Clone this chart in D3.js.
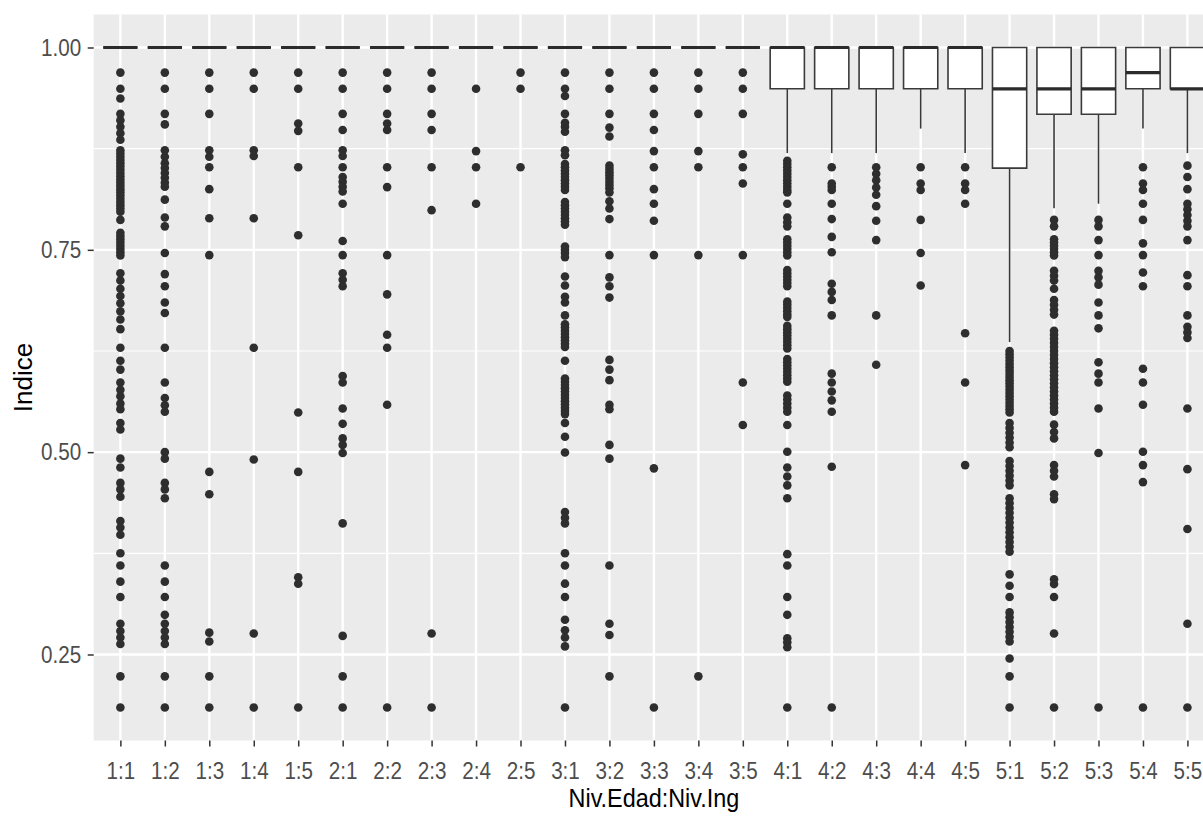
<!DOCTYPE html>
<html><head><meta charset="utf-8">
<script src="https://cdn.jsdelivr.net/npm/d3@7"></script>
<style>html,body{margin:0;padding:0;background:#fff;overflow:hidden}</style>
</head><body><svg id="chart" width="1203" height="816"></svg>
<script>
// ---- data ----
const categories = ["1:1","1:2","1:3","1:4","1:5","2:1","2:2","2:3","2:4","2:5","3:1","3:2","3:3","3:4","3:5","4:1","4:2","4:3","4:4","4:5","5:1","5:2","5:3","5:4","5:5"];
const q1         = [1,1,1,1,1,1,1,1,1,1,1,1,1,1,1,0.949,0.949,0.949,0.949,0.949,0.851,0.9175,0.9175,0.949,0.949];
const medians    = [1,1,1,1,1,1,1,1,1,1,1,1,1,1,1,1,1,1,1,1,0.949,0.949,0.949,0.969,0.949];
const q3         = [1,1,1,1,1,1,1,1,1,1,1,1,1,1,1,1,1,1,1,1,1,1,1,1,1];
const whiskerLow = [1,1,1,1,1,1,1,1,1,1,1,1,1,1,1,0.8695,0.8695,0.8695,0.8998,0.8695,0.636,0.8015,0.807,0.8998,0.8695];
const whiskerHigh= [1,1,1,1,1,1,1,1,1,1,1,1,1,1,1,1,1,1,1,1,1,1,1,1,1];
const outliers = [
  /*1:1*/[0.969,0.949,0.937,0.918,0.910,0.902,0.894,0.886,0.873,0.869,0.865,0.861,0.857,0.853,0.849,0.845,0.841,0.837,0.833,0.829,0.825,0.821,0.817,0.813,0.809,0.805,0.801,0.797,0.787,0.771,0.767,0.763,0.759,0.755,0.751,0.747,0.743,0.721,0.712,0.702,0.693,0.684,0.674,0.664,0.652,0.629,0.613,0.602,0.586,0.577,0.569,0.560,0.553,0.536,0.528,0.492,0.481,0.462,0.454,0.445,0.415,0.407,0.398,0.375,0.360,0.340,0.321,0.288,0.279,0.271,0.263,0.223,0.1845],
  /*1:2*/[0.969,0.949,0.918,0.905,0.873,0.865,0.857,0.851,0.845,0.839,0.833,0.828,0.812,0.790,0.779,0.746,0.720,0.705,0.685,0.672,0.629,0.586,0.567,0.558,0.550,0.500,0.492,0.462,0.454,0.443,0.360,0.340,0.321,0.299,0.288,0.279,0.271,0.263,0.223,0.1845],
  /*1:3*/[0.969,0.949,0.918,0.873,0.865,0.852,0.825,0.789,0.7435,0.4756,0.448,0.277,0.266,0.223,0.1845],
  /*1:4*/[0.969,0.949,0.873,0.866,0.789,0.629,0.491,0.276,0.1845],
  /*1:5*/[0.969,0.949,0.906,0.897,0.852,0.768,0.549,0.4756,0.3455,0.3375,0.1845],
  /*2:1*/[0.969,0.949,0.918,0.898,0.873,0.866,0.852,0.840,0.834,0.828,0.822,0.807,0.761,0.7435,0.721,0.713,0.705,0.594,0.586,0.554,0.535,0.517,0.509,0.499,0.412,0.273,0.223,0.1845],
  /*2:2*/[0.969,0.949,0.918,0.906,0.898,0.852,0.8275,0.7435,0.695,0.645,0.629,0.5585,0.1845],
  /*2:3*/[0.969,0.949,0.918,0.898,0.852,0.799,0.276,0.1845],
  /*2:4*/[0.949,0.872,0.852,0.807],
  /*2:5*/[0.969,0.949,0.852],
  /*3:1*/[0.969,0.949,0.940,0.918,0.907,0.902,0.896,0.873,0.867,0.856,0.852,0.848,0.844,0.840,0.836,0.832,0.828,0.824,0.809,0.805,0.801,0.797,0.793,0.789,0.785,0.781,0.754,0.750,0.746,0.741,0.717,0.706,0.692,0.685,0.669,0.658,0.654,0.650,0.646,0.642,0.638,0.634,0.630,0.613,0.591,0.587,0.583,0.579,0.575,0.571,0.567,0.563,0.559,0.555,0.551,0.547,0.536,0.519,0.4995,0.426,0.419,0.412,0.375,0.360,0.3375,0.321,0.293,0.280,0.271,0.260,0.1845],
  /*3:2*/[0.969,0.949,0.918,0.901,0.890,0.854,0.850,0.846,0.842,0.838,0.834,0.830,0.826,0.821,0.810,0.801,0.788,0.7435,0.716,0.705,0.691,0.614,0.602,0.589,0.5585,0.553,0.509,0.492,0.360,0.288,0.274,0.223],
  /*3:3*/[0.969,0.949,0.918,0.898,0.872,0.852,0.825,0.807,0.786,0.7435,0.480,0.1845],
  /*3:4*/[0.969,0.949,0.918,0.872,0.852,0.7435,0.223],
  /*3:5*/[0.969,0.949,0.918,0.868,0.852,0.832,0.7435,0.586,0.5336],
  /*4:1*/[0.860,0.856,0.852,0.848,0.844,0.840,0.836,0.832,0.828,0.824,0.821,0.807,0.790,0.784,0.779,0.763,0.759,0.755,0.751,0.747,0.743,0.725,0.721,0.717,0.713,0.709,0.705,0.686,0.682,0.678,0.674,0.670,0.667,0.656,0.652,0.648,0.644,0.640,0.636,0.632,0.628,0.615,0.611,0.607,0.603,0.599,0.595,0.591,0.587,0.570,0.565,0.560,0.555,0.550,0.5336,0.5005,0.481,0.470,0.459,0.443,0.374,0.360,0.321,0.299,0.270,0.265,0.259,0.1845],
  /*4:2*/[0.852,0.832,0.828,0.824,0.807,0.788,0.766,0.747,0.708,0.698,0.688,0.669,0.597,0.586,0.575,0.564,0.550,0.482,0.1845],
  /*4:3*/[0.852,0.844,0.836,0.827,0.818,0.804,0.786,0.762,0.669,0.608],
  /*4:4*/[0.852,0.832,0.824,0.787,0.746,0.706],
  /*4:5*/[0.852,0.832,0.824,0.807,0.647,0.586,0.484],
  /*5:1*/[0.625,0.621,0.617,0.613,0.609,0.605,0.601,0.597,0.593,0.589,0.585,0.581,0.577,0.573,0.569,0.565,0.561,0.557,0.553,0.549,0.536,0.530,0.524,0.518,0.512,0.506,0.489,0.483,0.477,0.471,0.465,0.459,0.443,0.437,0.431,0.425,0.419,0.413,0.407,0.401,0.395,0.389,0.383,0.377,0.349,0.335,0.321,0.302,0.296,0.290,0.284,0.278,0.272,0.266,0.245,0.223,0.1845],
  /*5:2*/[0.787,0.779,0.763,0.759,0.755,0.751,0.747,0.743,0.724,0.718,0.712,0.702,0.688,0.682,0.676,0.670,0.650,0.645,0.640,0.635,0.630,0.625,0.620,0.615,0.610,0.605,0.600,0.595,0.590,0.585,0.580,0.575,0.570,0.565,0.560,0.555,0.550,0.534,0.525,0.517,0.484,0.477,0.470,0.448,0.442,0.343,0.337,0.321,0.276,0.1845],
  /*5:3*/[0.787,0.779,0.762,0.7435,0.724,0.716,0.707,0.685,0.669,0.653,0.611,0.597,0.586,0.554,0.499,0.1845],
  /*5:4*/[0.852,0.832,0.824,0.807,0.787,0.758,0.7435,0.722,0.705,0.603,0.586,0.5585,0.5005,0.484,0.463,0.1845],
  /*5:5*/[0.854,0.840,0.825,0.807,0.800,0.793,0.786,0.779,0.762,0.7187,0.705,0.669,0.655,0.648,0.641,0.554,0.479,0.405,0.288,0.1845]
];
const yTicks = [0.25, 0.50, 0.75, 1.00];
const xTitle = "Niv.Edad:Niv.Ing";
const yTitle = "Indice";

// ---- layout ----
const panel = {left: 93.7, right: 1214.1, top: 14.5, bottom: 740.5};
const svg = d3.select("#chart");
const FONT = "'Liberation Sans', Arial, sans-serif";

const allVals = outliers.flat().concat(q1, q3, whiskerLow, whiskerHigh);
const lo = d3.min(allVals), hi = d3.max(allVals), pad = (hi - lo) * 0.05;
const y = d3.scaleLinear().domain([lo - pad, hi + pad]).range([panel.bottom, panel.top]);
const x = d3.scalePoint().domain(categories).range([panel.left, panel.right]).padding(0.6);
const bw = x.step() * 0.77;

// panel background
svg.append("rect").attr("x", panel.left).attr("y", panel.top)
  .attr("width", panel.right - panel.left).attr("height", panel.bottom - panel.top)
  .attr("fill", "#EBEBEB");

const grid = svg.append("g");
const minor = d3.pairs(yTicks).map(([a, b]) => (a + b) / 2)
  .concat([yTicks[0] - (yTicks[1]-yTicks[0])/2, yTicks[yTicks.length-1] + (yTicks[1]-yTicks[0])/2])
  .filter(v => v > y.domain()[0] && v < y.domain()[1]);
grid.selectAll(".mn").data(minor).join("line")
  .attr("x1", panel.left).attr("x2", panel.right)
  .attr("y1", d => y(d)).attr("y2", d => y(d))
  .attr("stroke", "#fff").attr("stroke-width", 1.2);
grid.selectAll(".mj").data(yTicks).join("line")
  .attr("x1", panel.left).attr("x2", panel.right)
  .attr("y1", d => y(d)).attr("y2", d => y(d))
  .attr("stroke", "#fff").attr("stroke-width", 2.4);
grid.selectAll(".vx").data(categories).join("line")
  .attr("x1", d => x(d)).attr("x2", d => x(d))
  .attr("y1", panel.top).attr("y2", panel.bottom)
  .attr("stroke", "#fff").attr("stroke-width", 2.4);

// boxes
const boxData = categories.map((c, i) => ({c, q1: q1[i], med: medians[i], q3: q3[i], wl: whiskerLow[i], wh: whiskerHigh[i], out: outliers[i]}));
const bg = svg.append("g");
const g = bg.selectAll("g").data(boxData).join("g");
g.append("line").attr("x1", d => x(d.c)).attr("x2", d => x(d.c))
  .attr("y1", d => y(d.q1)).attr("y2", d => y(d.wl))
  .attr("stroke", "#3a3a3a").attr("stroke-width", 1.6);
g.append("line").attr("x1", d => x(d.c)).attr("x2", d => x(d.c))
  .attr("y1", d => y(d.q3)).attr("y2", d => y(d.wh))
  .attr("stroke", "#3a3a3a").attr("stroke-width", 1.6);
g.append("path")
  .attr("d", d => `M${x(d.c)-bw/2},${y(d.q3)}H${x(d.c)+bw/2}V${y(d.q1)}H${x(d.c)-bw/2}Z`)
  .attr("fill", "#fff").attr("stroke", "#3a3a3a").attr("stroke-width", 1.6);
g.append("line").attr("x1", d => x(d.c) - bw/2).attr("x2", d => x(d.c) + bw/2)
  .attr("y1", d => y(d.med)).attr("y2", d => y(d.med))
  .attr("stroke", "#2b2b2b").attr("stroke-width", 3.2);
g.selectAll("circle").data(d => d.out.map(v => ({c: d.c, v}))).join("circle")
  .attr("cx", d => x(d.c)).attr("cy", d => y(d.v)).attr("r", 4.3)
  .attr("fill", "#2e2e2e");

// axes
const sx = 0.86;
const yAxis = svg.append("g").attr("transform", `translate(${panel.left},0)`)
  .call(d3.axisLeft(y).tickValues(yTicks).tickFormat(d3.format(".2f")).tickSize(6).tickPadding(6.5));
yAxis.select(".domain").remove();
yAxis.selectAll(".tick line").attr("stroke", "#333").attr("stroke-width", 1.5);
yAxis.selectAll(".tick text").attr("fill", "#4D4D4D").style("font-family", FONT).style("font-size", "24px")
  .attr("x", 0).attr("transform", `translate(-12.5,0) scale(${sx},1)`);

const xAxis = svg.append("g").attr("transform", `translate(0,${panel.bottom})`)
  .call(d3.axisBottom(x).tickSize(6).tickPadding(6));
xAxis.select(".domain").remove();
xAxis.selectAll(".tick line").attr("stroke", "#333").attr("stroke-width", 1.5);
xAxis.selectAll(".tick text").attr("fill", "#4D4D4D").style("font-family", FONT).style("font-size", "24px")
  .attr("y", 38.5).attr("dy", 0).attr("transform", `scale(${sx},1)`);

svg.append("text").text(xTitle)
  .attr("transform", `translate(${(panel.left+panel.right)/2},807) scale(0.9,1)`)
  .attr("text-anchor", "middle").attr("fill", "#000")
  .style("font-family", FONT).style("font-size", "26px");
svg.append("text").text(yTitle)
  .attr("transform", `translate(32,${(panel.top+panel.bottom)/2}) rotate(-90)`)
  .attr("text-anchor", "middle").attr("fill", "#000")
  .style("font-family", FONT).style("font-size", "26px");
</script></body></html>
